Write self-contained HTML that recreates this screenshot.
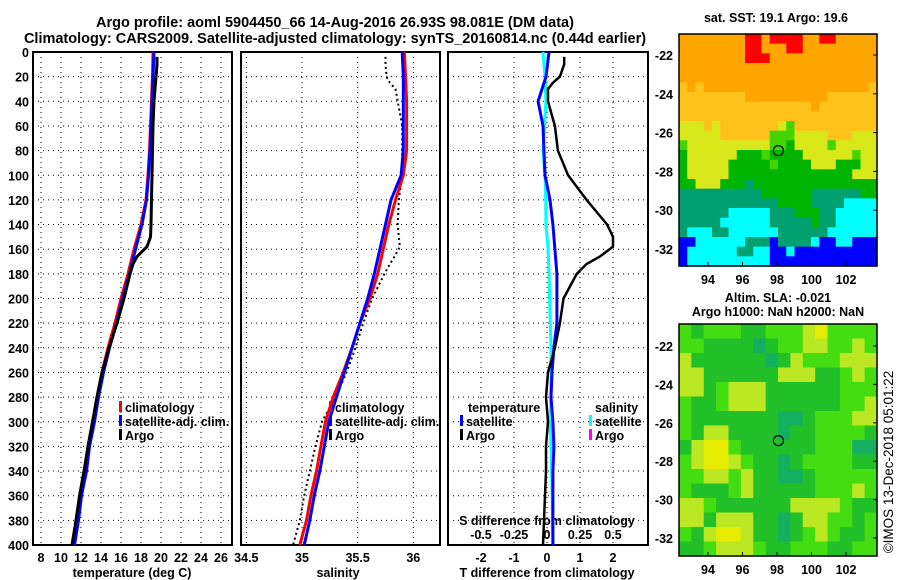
<!DOCTYPE html>
<html><head><meta charset="utf-8"><style>
html,body{margin:0;padding:0;background:#fff}
svg{display:block}
text{font-family:"Liberation Sans",Arial,sans-serif;font-weight:bold;fill:#000}
</style></head><body>
<svg id="s" width="900" height="580" viewBox="0 0 900 580" xmlns="http://www.w3.org/2000/svg">
<rect width="900" height="580" fill="#fff"/>
<text x="335" y="27" font-size="14.5" text-anchor="middle">Argo profile: aoml 5904450_66 14-Aug-2016 26.93S 98.081E (DM data)</text>
<text x="335" y="43" font-size="14.5" text-anchor="middle">Climatology: CARS2009. Satellite-adjusted climatology: synTS_20160814.nc (0.44d earlier)</text>
<text x="776" y="22" font-size="12.5" text-anchor="middle">sat. SST: 19.1 Argo: 19.6</text>
<text x="778" y="302" font-size="12.5" text-anchor="middle">Altim. SLA: -0.021</text>
<text x="778" y="316" font-size="12.5" text-anchor="middle">Argo h1000: NaN h2000: NaN</text>
<text x="0" y="0" font-size="13.5" transform="translate(893,462) rotate(-90)" text-anchor="middle" style="font-weight:normal">©IMOS 13-Dec-2018 05:01:22</text>
<g id="g"></g>
</svg>
<script>
// ---- data ----
const depthTicks=[0,20,40,60,80,100,120,140,160,180,200,220,240,260,280,300,320,340,360,380,400];
const tempTicks=[8,10,12,14,16,18,20,22,24,26];
const salTicks=[34.5,35,35.5,36];
const tdiffTicks=[-2,-1,0,1,2];
const sdiffTicks=[-0.5,-0.25,0,0.25,0.5];
const climDepth=[0,20,40,60,80,100,120,140,160,180,200,220,240,260,280,300,320,340,360,380,400];
const climTemp=[19.2,19.15,19.05,18.95,18.85,18.7,18.5,18.0,17.3,16.7,16.0,15.4,14.7,14.1,13.6,13.2,12.7,12.4,11.9,11.6,11.2];
const satTemp=[19.3,19.2,19.1,19.0,18.9,18.75,18.55,18.1,17.45,16.85,16.15,15.55,14.85,14.25,13.75,13.35,12.85,12.55,12.05,11.75,11.35];
const climSal=[35.92,35.93,35.94,35.94,35.94,35.91,35.84,35.78,35.73,35.68,35.61,35.52,35.45,35.37,35.28,35.21,35.17,35.13,35.08,35.04,34.98];
const satSal=[35.90,35.91,35.91,35.91,35.91,35.89,35.80,35.75,35.70,35.65,35.59,35.52,35.45,35.38,35.31,35.24,35.20,35.16,35.11,35.07,35.02];
const satTdiff=[0.06,-0.03,-0.27,-0.12,-0.09,-0.06,0.09,0.18,0.24,0.30,0.30,0.30,0.21,0.15,0.12,0.18,0.21,0.18,0.18,0.18,0.18];
const satSdiff=[-0.03,-0.015,-0.008,-0.02,-0.03,-0.015,-0.01,-0.008,0.008,0.015,0.02,0.025,0.03,0.03,0.03,0.025,0.03,0.035,0.04,0.042,0.045];
const argoDepth=[4,10,20,25,30,40,60,80,100,120,140,150,158,166,172,180,200,220,240,260,280,300,320,340,360,380,400];
const argoTemp=[19.6,19.6,19.5,19.45,19.4,19.3,19.2,19.15,19.1,19.05,19.0,18.95,18.6,17.6,17.2,16.9,16.3,15.6,14.8,14.1,13.6,13.15,12.7,12.3,11.85,11.5,11.1];
const argoSal=[35.75,35.75,35.76,35.79,35.84,35.86,35.9,35.9,35.9,35.87,35.86,35.87,35.88,35.83,35.79,35.74,35.63,35.55,35.48,35.40,35.30,35.18,35.12,35.07,35.02,34.98,34.92];
const argoTdiff=[0.52,0.52,0.39,0.18,0.03,0.03,0.24,0.33,0.64,1.2,1.82,2.0,2.0,1.6,1.2,0.9,0.5,0.39,0.24,0.03,-0.03,0.03,-0.03,-0.03,-0.06,-0.09,-0.12];
const lonTicks=[94,96,98,100,102];
const latTicks=[-22,-24,-26,-28,-30,-32];
const argoLon=98.08, argoLat=-26.93;
const sstRows=[
"OOOOOOOORRORRRROORROOOOO",
"OOOOOOOORROOORROOOOOOOOO",
"OOOOOOOORRROOOOOOOOOOOOO",
"OOOOOOOOOOOOOOOOOOOOOOOO",
"OOOOOOOOOOOOOOOOOOOOOOOO",
"oOoOOOOOOOOOOOOOOOOOOOOo",
"ooooooooOOOOOOOOOOoooooo",
"ooooooooooooooooOooooooo",
"oooooooooooooooooooooooo",
"yyyoyoooooooygoooooooooo",
"yyyyyoooooogggyyyyoooyyy",
"gyyyyyyyyyyggGyyyygyyyyy",
"GyyyyyyGGGgGGGGyyyyyygyy",
"GyyyyyGGGGGgGGGGyyyGGGyy",
"GyyyyyGGGGGGGGGGGGGGGyyy",
"GGyyyGGGTGGGGGGGGGGGGGGG",
"TTTTTTTTTTGGGGGGTTTTTTGG",
"TTTTTTTTTTTTGGGGTTTTCCCC",
"TTTTTTCCCCCTTTGGGTTCCCCC",
"TTTTTCCCCCCTTTTTGTTCCCCC",
"TCCCTTCCCCCCTTTTTTCCCCCC",
"BBCCCCCCTTTBTTTTCBBCCBBB",
"BCCCCCCTTCCBBCBBBBBBBBBB",
"BCCCCCCCCCCBBBBBBBBBBBBB"];
const slaRows=["gGgggGGgggyYgggg","ggGGGGTGggyyggyg","yGGGGGGTGygggyyy","yyGGGGGGyyyGGgyg","yyGgyyyGGGGGGggg","gGGgyyyGGGGGGggy","gGGGGGGGTTGgggyy","gGyyGGGGTGGggggG","GyYYgGGGGGGgggTT","gyYYygGGTGggggGG","ggyygyGGTTGggggg","gGGGgyGGGGGgggyg","yygGGGGGGyyyygGG","yyGyyyGGTGyyggGg","gGyYYyGGTGgygGGg","GGgyyygGGgggGGgg"];
const sstColors={R:"#ff0000",O:"#ffa500",o:"#ffc21a",y:"#d8e81a",g:"#44d400",G:"#00b400",T:"#00a070",C:"#00ffff",B:"#0000ff"};
const slaColors={g:"#44dd11",G:"#22c028",y:"#bbe822",Y:"#e6ec00",T:"#14b060"};

// ---- geometry ----
const NS="http://www.w3.org/2000/svg";
const G=document.getElementById('g');
const yTop=52,yBot=545;
function yD(d){return yTop+(d/400)*(yBot-yTop);}
const P1={x0:33,x1:232}, P2={x0:241,x1:440}, P3={x0:448,x1:648};
function xT(v){return 41+(v-8)*10;}
function xS(v){return 302+(v-35)*111.3;}
function xTd(v){return 547+v*33;}
function xSd(v){return 547+v*132;}
const M1={x0:679,x1:877,y0:34,y1:266}, M2={x0:679,x1:877,y0:324,y1:556};
function xLon(v){return 708+(v-94)*17.25;}
function yLat1(v){return 55+(-22-v)*19.4;}
function yLat2(v){return 346+(-22-v)*19.2;}
function mk(tag,attrs){const e=document.createElementNS(NS,tag);for(const k in attrs)e.setAttribute(k,attrs[k]);G.appendChild(e);return e;}

function panel(P,xs,xf,nm){
  xs.forEach(v=>{const l=mk('line',{x1:xf(v),x2:xf(v),y1:yTop,y2:yBot,stroke:'#000','stroke-width':1,'stroke-dasharray':'1,4'});
    
    });
  depthTicks.forEach(d=>{const l=mk('line',{x1:P.x0,x2:P.x1,y1:yD(d),y2:yD(d),stroke:'#000','stroke-width':1,'stroke-dasharray':'1,4'});
    
    });
  const r=mk('rect',{x:P.x0,y:yTop,width:P.x1-P.x0,height:yBot-yTop,fill:'none',stroke:'#000','stroke-width':2});
  
  
}
panel(P1,tempTicks,xT,'temperature-panel');
panel(P2,salTicks,xS,'salinity-panel');
panel(P3,tdiffTicks,xTd,'difference-panel');

function txt(x,y,s,size,anchor,nm){const t=mk('text',{x:x,y:y,'font-size':size,'text-anchor':anchor||'start'});t.textContent=s;
  
  return t;}
depthTicks.forEach(d=>txt(29,yD(d)+5,String(d),12.5,'end','depth-tick-label'));
tempTicks.forEach(v=>txt(xT(v),562,String(v),12.5,'middle','temp-tick-label'));
salTicks.forEach(v=>txt(xS(v),562,String(v),12.5,'middle','salinity-tick-label'));
tdiffTicks.forEach(v=>txt(xTd(v),562,String(v),12.5,'middle','tdiff-tick-label'));
sdiffTicks.forEach(v=>txt(xSd(v),539,String(v),12.5,'middle','sdiff-tick-label'));
txt(132,577,'temperature (deg C)',12.5,'middle','temp-axis-title');
txt(338,577,'salinity',12.5,'middle','salinity-axis-title');
txt(547,577,'T difference from climatology',12.5,'middle','tdiff-axis-title');
txt(547,525,'S difference from climatology',12.5,'middle','sdiff-axis-title');

function line(xs,ys,xf,col,w,dash,nm){
  const pts=xs.map((v,i)=>xf(v).toFixed(1)+','+yD(ys[i]).toFixed(1)).join(' ');
  const p=mk('polyline',{points:pts,fill:'none',stroke:col,'stroke-width':w});
  if(dash)p.setAttribute('stroke-dasharray',dash);
  
  
}
line(climTemp,climDepth,xT,'#f00',3,null,'temp-climatology-line');
line(satTemp,climDepth,xT,'#00f',3,null,'temp-satellite-line');
line(argoTemp,argoDepth,xT,'#000',3,null,'temp-argo-line');
line(argoSal,argoDepth,xS,'#000',2,'2,3','salinity-argo-line');
line(climSal,climDepth,xS,'#f00',3,null,'salinity-climatology-line');
line(satSal,climDepth,xS,'#00f',3,null,'salinity-satellite-line');
line(satSdiff,climDepth,xSd,'#0ff',3,null,'sdiff-satellite-line');
line(satTdiff,climDepth,xTd,'#00f',3,null,'tdiff-satellite-line');
line(argoTdiff,argoDepth,xTd,'#000',2.5,null,'tdiff-argo-line');

function legend(x,y,col,label,nm){
  const r=mk('rect',{x:x,y:y-11,width:3,height:11,fill:col});
  
  
  txt(x+6,y,label,12.5,'start',nm);
}
legend(119,412,'#f00','climatology','legend-climatology');
legend(119,426,'#00f','satellite-adj. clim.','legend-satellite-adj');
legend(119,440,'#000','Argo','legend-argo');
legend(329,412,'#f00','climatology','legend-sal-climatology');
legend(329,426,'#00f','satellite-adj. clim.','legend-sal-satellite-adj');
legend(329,440,'#000','Argo','legend-sal-argo');
txt(468,412,'temperature',12.5,'start','legend-temperature-heading');
txt(595,412,'salinity',12.5,'start','legend-salinity-heading');
legend(460,426,'#00f','satellite','legend-t-satellite');
legend(460,440,'#000','Argo','legend-t-argo');
legend(589,426,'#0ff','satellite','legend-s-satellite');
legend(589,440,'#f0f','Argo','legend-s-argo');

function map(M,rows,cols,yl,nm){
  const nr=rows.length,nc=rows[0].length,cw=(M.x1-M.x0)/nc,ch=(M.y1-M.y0)/nr;
  rows.forEach((row,i)=>{[...row].forEach((c,j)=>{
    const r=mk('rect',{x:(M.x0+j*cw).toFixed(2),y:(M.y0+i*ch).toFixed(2),width:(cw+0.6).toFixed(2),height:(ch+0.6).toFixed(2),fill:cols[c]});
    
    });});
  const f=mk('rect',{x:M.x0,y:M.y0,width:M.x1-M.x0,height:M.y1-M.y0,fill:'none',stroke:'#000','stroke-width':1.5});
  
  
  lonTicks.forEach(v=>{txt(xLon(v),M.y1+18,String(v),12.5,'middle',nm+'-lon-label');
    const t=mk('line',{x1:xLon(v),x2:xLon(v),y1:M.y1,y2:M.y1-4,stroke:'#000'});
    
    });
  latTicks.forEach(v=>{txt(673,yl(v)+5,String(v),12.5,'end',nm+'-lat-label');
    const t=mk('line',{x1:M.x1,x2:M.x1-4,y1:yl(v),y2:yl(v),stroke:'#000'});
    
    });
  const c=mk('circle',{cx:xLon(argoLon),cy:yl(argoLat),r:5,fill:'none',stroke:'#000','stroke-width':1.2});
  
  
}
map(M1,sstRows,sstColors,yLat1,'sst-map');
map(M2,slaRows,slaColors,yLat2,'sla-map');
</script>
</body></html>
